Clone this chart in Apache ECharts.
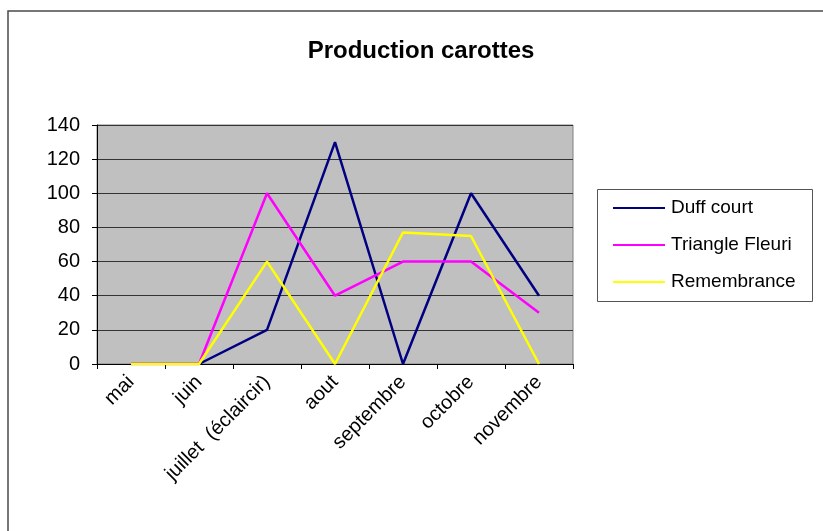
<!DOCTYPE html>
<html>
<head>
<meta charset="utf-8">
<script src="https://cdn.jsdelivr.net/npm/echarts@6/dist/echarts.min.js"></script>
<style>html,body{margin:0;padding:0;background:#fff}#c{width:823px;height:531px}</style>
</head>
<body>
<div id="c"></div>
<script>
var categories = ['mai', 'juin', 'juillet  (éclaircir)', 'aout', 'septembre', 'octobre', 'novembre'];
var duffCourt = [0, 0, 20, 130, 0, 100, 40];
var triangleFleuri = [0, 0, 100, 40, 60, 60, 30];
var remembrance = [0, 0, 60, 0, 77, 75, 0];
var seriesNames = ['Duff court', 'Triangle Fleuri', 'Remembrance'];
var seriesColors = ['#000080', '#FF00FF', '#FFFF00'];
var seriesData = [duffCourt, triangleFleuri, remembrance];

var FONT = '"Liberation Sans", Arial, sans-serif';
var chart = echarts.init(document.getElementById('c'), null, {renderer: 'canvas'});
chart.setOption({
  animation: false,
  backgroundColor: '#ffffff',
  title: {
    text: 'Production carottes',
    left: 416, top: 34, textAlign: 'center',
    textStyle: {fontFamily: FONT, fontSize: 24, fontWeight: 'bold', color: '#000'}
  },
  graphic: [
    {type: 'rect', shape: {x: 8, y: 11, width: 900, height: 600}, style: {fill: 'none', stroke: '#4a4a4a', lineWidth: 1.5}, silent: true, z: -1},
    {type: 'rect', shape: {x: 597.5, y: 189.5, width: 215, height: 112}, style: {fill: '#fff', stroke: '#555', lineWidth: 1}, silent: true, z: 0}
  ],
  legend: {
    orient: 'vertical',
    left: 597, top: 189,
    padding: [9, 10, 9, 16],
    itemWidth: 52, itemHeight: 2,
    itemGap: 17,
    icon: 'rect',
    z: 5,
    textStyle: {fontFamily: FONT, fontSize: 19, color: '#000', lineHeight: 20, padding: [0, 0, 0, 1]},
    data: seriesNames
  },
  grid: {
    left: 97, top: 125, right: 250, bottom: 167,
    show: true, backgroundColor: '#C0C0C0', borderColor: '#808080', borderWidth: 1
  },
  xAxis: {
    type: 'category',
    data: categories,
    boundaryGap: true,
    axisLine: {lineStyle: {color: '#000', width: 1}},
    axisTick: {show: true, length: 5, inside: false, lineStyle: {color: '#000'}},
    axisLabel: {rotate: 45, margin: 15, fontFamily: FONT, fontSize: 20, color: '#000', interval: 0}
  },
  yAxis: {
    type: 'value',
    min: 0, max: 140, interval: 20,
    axisLine: {show: true, lineStyle: {color: '#000', width: 1}},
    axisTick: {show: true, length: 5, lineStyle: {color: '#000'}},
    axisLabel: {margin: 17, fontFamily: FONT, fontSize: 20, color: '#000'},
    splitLine: {show: true, lineStyle: {color: '#333', width: 1}}
  },
  series: seriesNames.map(function (n, i) {
    return {
      name: n, type: 'line', data: seriesData[i],
      symbol: 'none', showSymbol: false,
      color: seriesColors[i],
      lineStyle: {color: seriesColors[i], width: 2.5}
    };
  })
});
</script>
</body>
</html>
